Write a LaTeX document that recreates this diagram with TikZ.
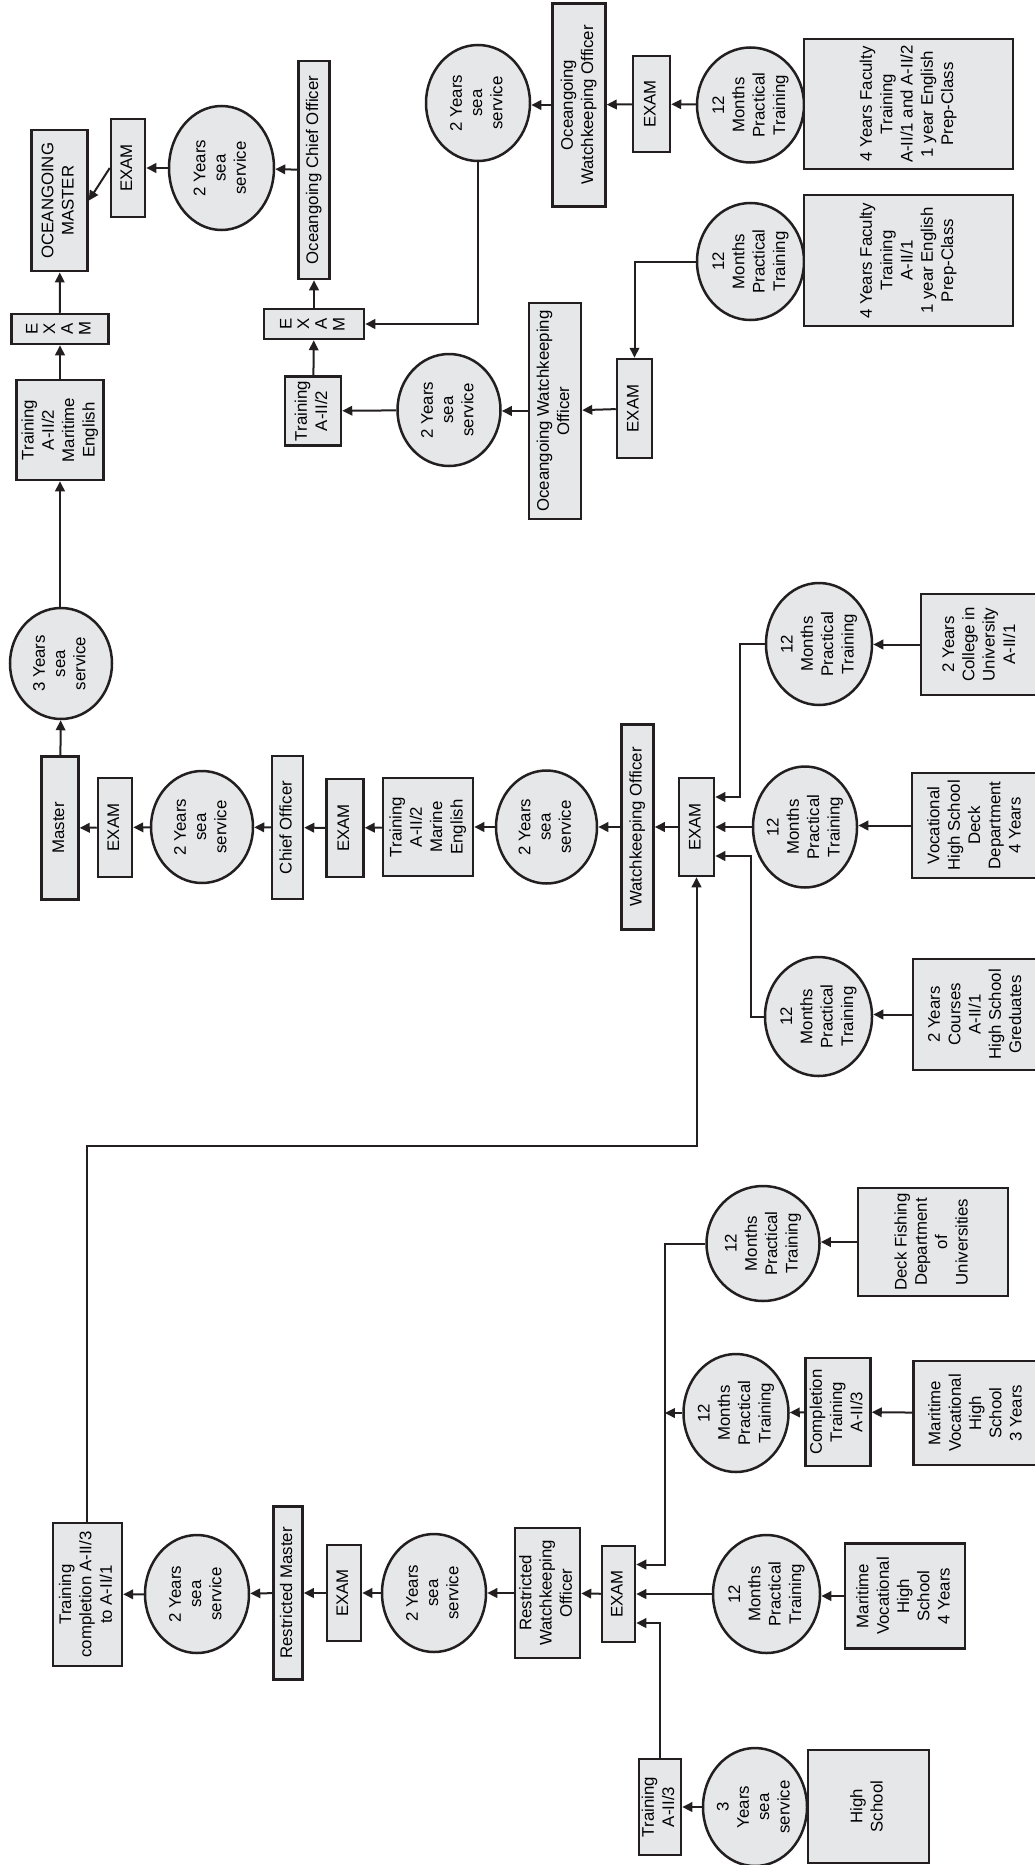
\documentclass[tikz,border=0pt]{standalone}
\usepackage{fontspec}
\setmainfont{Liberation Sans}
\usepackage{graphicx}
\usepackage{tikz}
\usetikzlibrary{arrows.meta}
\usetikzlibrary{shapes.geometric}

\definecolor{ink}{HTML}{231F20}
\definecolor{paper}{HTML}{E6E7E8}
\newcommand{\vt}[1]{\rotatebox{90}{\begin{tabular}{@{}c@{}}#1\end{tabular}}}

\begin{document}
\begin{tikzpicture}[x=1pt, y=-1pt, font=\fontsize{16.8}{20.3}\selectfont,
		box/.style={draw=ink, fill=paper, line width=2.5pt, inner sep=0pt},
		ring/.style={ellipse, draw=ink, fill=paper, line width=2.5pt, inner sep=-15pt},
		sz/.style 2 args={minimum width=#1pt, minimum height=#2pt},
		arr/.style={draw=ink, line width=2pt, -{Triangle[length=10pt,width=9.5pt]}}]
	\useasboundingbox (0,0) rectangle (1035,1865);
		\begin{scope}
		% oceangoing branch
		\node[box, sz={56}{141}] (om) at (59.4,200.7) {\vt{OCEANGOING\\MASTER}};
		\node[box, sz={34}{98}] (examA) at (128,168) {\vt{EXAM}};
		\node[ring, sz={105}{124}] (ssA) at (221.5,168) {\vt{2 Years\\sea\\service}};
		\node[box, sz={31}{218}] (oco) at (314,170) {\vt{Oceangoing Chief Officer}};
		\node[box, sz={100}{30}] (examB) at (314,324) {\vt{E\\[-2.6pt]X\\[-2.6pt]A\\[-2.6pt]M}};
		\node[ring, sz={104}{116}] (ssB) at (478,103) {\vt{2 Years\\sea\\service}};
		\node[box, sz={56}{69}] (trB) at (313,411) {\vt{Training\\A-II/2}};
		\node[ring, sz={103}{112}] (ssC) at (449,410) {\vt{2 Years\\sea\\service}};
		\node[box, sz={53}{203}] (owoA) at (579,105) {\vt{Oceangoing\\Watchkeeping Officer}};
		\node[box, sz={37}{96}] (examC) at (651.5,104) {\vt{EXAM}};
		\node[ring, sz={107}{115}] (ptA) at (750.5,105) {\vt{12\\Months\\Practical\\Training}};
		\node[box, sz={209}{130}] (facA) at (908.5,104) {\vt{4 Years Faculty\\Training\\A-II/1 and A-II/2\\1 year English\\Prep-Class}};
		\node[ring, sz={107}{117}] (ptB) at (750.5,261.5) {\vt{12\\Months\\Practical\\Training}};
		\node[box, sz={209}{131}] (facB) at (908.5,260.5) {\vt{4 Years Faculty\\Training\\A-II/1\\1 year English\\Prep-Class}};
		\node[box, sz={35}{99}] (examD) at (634.5,408.5) {\vt{EXAM}};
		\node[box, sz={52}{216}] (owoB) at (555,411) {\vt{Oceangoing Watchkeeping\\Officer}};
		\node[box, sz={97}{30}] (examE) at (60,329) {\vt{E\\[-2.6pt]X\\[-2.6pt]A\\[-2.6pt]M}};
		\node[box, sz={87}{100}] (trA) at (60,430) {\vt{Training\\A-II/2\\Maritime\\English}};

		\draw[arr] (examA.west) -- (om.east);
		\draw[arr] (ssA) -- (examA);
		\draw[arr] (oco) -- (ssA);
		\draw[arr] (examB) -- (oco);
		\draw[arr] (ssB.south) |- (examB.east);
		\draw[arr] (trB) -- (examB);
		\draw[arr] (ssC) -- (trB);
		\draw[arr] (owoB.west) -- (owoB.west -| ssC.east);
		\draw[arr] (examD) -- (owoB);
		\draw[arr] (ptB.west) -| (examD.north);
		\draw[arr] (ptA) -- (examC);
		\draw[arr] (examC) -- (owoA);
		\draw[arr] (owoA.west) -- (owoA.west -| ssB.east);
		\draw[arr] (examE) -- (om);
		\draw[arr] (trA) -- (examE);
		\end{scope}

		\begin{scope}
		% watchkeeping officer branch
		\node[ring, sz={102}{111}] (ssD) at (61,663.5) {\vt{3 Years\\sea\\service}};
		\node[box, sz={37}{143}] (master) at (60,828) {\vt{Master}};
		\node[box, sz={34}{99}] (examF) at (115,827.5) {\vt{EXAM}};
		\node[ring, sz={102}{112}] (ssE) at (202,827) {\vt{2 Years\\sea\\service}};
		\node[box, sz={31}{143}] (co) at (287.5,827.5) {\vt{Chief Officer}};
		\node[box, sz={37}{98}] (examG) at (345,828) {\vt{EXAM}};
		\node[box, sz={90}{98}] (trC) at (428,827) {\vt{Training\\A-II/2\\Marine\\English}};
		\node[ring, sz={101}{113}] (ssF) at (546.5,827) {\vt{2 Years\\sea\\service}};
		\node[box, sz={32}{205}] (wo) at (637.5,827) {\vt{Watchkeeping Officer}};
		\node[box, sz={35}{98}] (examH) at (696.5,827) {\vt{EXAM}};
		\node[ring, sz={106}{122}] (ptC) at (819,644) {\vt{12\\Months\\Practical\\Training}};
		\node[box, sz={119}{101}] (colA) at (980.5,644.5) {\vt{2 Years\\College in\\University\\A-II/1}};
		\node[ring, sz={104}{121}] (ptD) at (805,827) {\vt{12\\Months\\Practical\\Training}};
		\node[box, sz={128}{105}] (vocA) at (976,825.5) {\vt{Vocational\\High School\\Deck\\Department\\4 Years}};
		\node[ring, sz={107}{119}] (ptE) at (818.5,1016.5) {\vt{12\\Months\\Practical\\Training}};
		\node[box, sz={127}{111}] (crsA) at (976.5,1014.5) {\vt{2 Years\\Courses\\A-II/1\\High School\\Greduates}};

		\draw[arr] (trA.south |- ssD.north) -- (trA.south);
		\draw[arr] (master) -- (ssD);
		\draw[arr] (examF) -- (master);
		\draw[arr] (ssE) -- (examF);
		\draw[arr] (co) -- (ssE);
		\draw[arr] (examG) -- (co);
		\draw[arr] (trC) -- (examG);
		\draw[arr] (ssF) -- (trC);
		\draw[arr] (wo) -- (ssF);
		\draw[arr] (examH) -- (wo);
		\draw[arr] (ptC.west) -- ++(-25,0) |- ([yshift=30pt]examH.east);
		\draw[arr] (ptD) -- (examH);
		\draw[arr] (ptE.west) -- ++(-13,0) |- ([yshift=-29pt]examH.east);
		\draw[arr] (colA.west) -- (colA.west -| ptC.east);
		\draw[arr] (vocA.west) -- (vocA.west -| ptD.east);
		\draw[arr] (crsA.west) -- (crsA.west -| ptE.east);
		\end{scope}

		\begin{scope}
		% restricted branch
		\node[box, sz={69}{143}] (trD) at (87.4,1594.5) {\vt{Training\\completion A-II/3\\to A-II/1}};
		\node[ring, sz={104}{118}] (ssG) at (197,1594) {\vt{2 Years\\sea\\service}};
		\node[box, sz={29}{173}] (rm) at (288,1593) {\vt{Restricted Master}};
		\node[box, sz={34}{96}] (examI) at (344,1593) {\vt{EXAM}};
		\node[ring, sz={104}{118}] (ssH) at (434,1593) {\vt{2 Years\\sea\\service}};
		\node[box, sz={65}{130}] (rwo) at (547.5,1593) {\vt{Restricted\\Watchkeeping\\Officer}};
		\node[box, sz={33}{96}] (examJ) at (618.5,1594) {\vt{EXAM}};
		\node[ring, sz={113}{115}] (ptF) at (763,1243.5) {\vt{12\\Months\\Practical\\Training}};
		\node[box, sz={150}{108}] (dfd) at (933,1242) {\vt{Deck Fishing\\Department\\of\\Universities}};
		\node[ring, sz={105}{118}] (ptG) at (736,1413) {\vt{12\\Months\\Practical\\Training}};
		\node[box, sz={65}{108}] (ctr) at (838,1412) {\vt{Completion\\Training\\A-II/3}};
		\node[box, sz={127}{104}] (mvA) at (977,1413) {\vt{Maritime\\Vocational\\High\\School\\3 Years}};
		\node[ring, sz={107}{118}] (ptH) at (766.5,1594) {\vt{12\\Months\\Practical\\Training}};
		\node[box, sz={120}{105}] (mvB) at (905,1596) {\vt{Maritime\\Vocational\\High\\School\\4 Years}};
		\node[box, sz={42}{96}] (trE) at (660,1807) {\vt{Training\\A-II/3}};
		\node[ring, sz={104}{118}] (ssI) at (755,1807) {\vt{3\\Years\\sea\\service}};
		\node[box, sz={121}{113}] (hs) at (868.5,1806.5) {\vt{High\\School}};
		\coordinate (bend) at (696.5,1145.5);
		\coordinate (trunk) at (664.8,1243.5);

		\draw[arr] (trD.north) |- (bend) -- (examH.south);
		\draw[arr] (ssG) -- (trD);
		\draw[arr] (rm) -- (ssG);
		\draw[arr] (examI) -- (rm);
		\draw[arr] (ssH) -- (examI);
		\draw[arr] (rwo) -- (ssH);
		\draw[arr] (examJ) -- (rwo);
		\draw[arr] (ptF.west) -- (trunk) |- ([yshift=29.5pt]examJ.east);
		\draw[arr] (ptG.west) -- (trunk |- ptG.west);
		\draw[arr] (ptH.west) -- (ptH.west -| examJ.east);
		\draw[arr] (trE.north) |- ([yshift=-29pt]examJ.east);
		\draw[arr] (dfd.west) -- (dfd.west -| ptF.east);
		\draw[arr] (ctr) -- (ptG);
		\draw[arr] (mvA) -- (ctr);
		\draw[arr] (mvB.west) -- (mvB.west -| ptH.east);
		\draw[arr] (ssI) -- (trE);
		\end{scope}
	\end{tikzpicture}
\end{document}
